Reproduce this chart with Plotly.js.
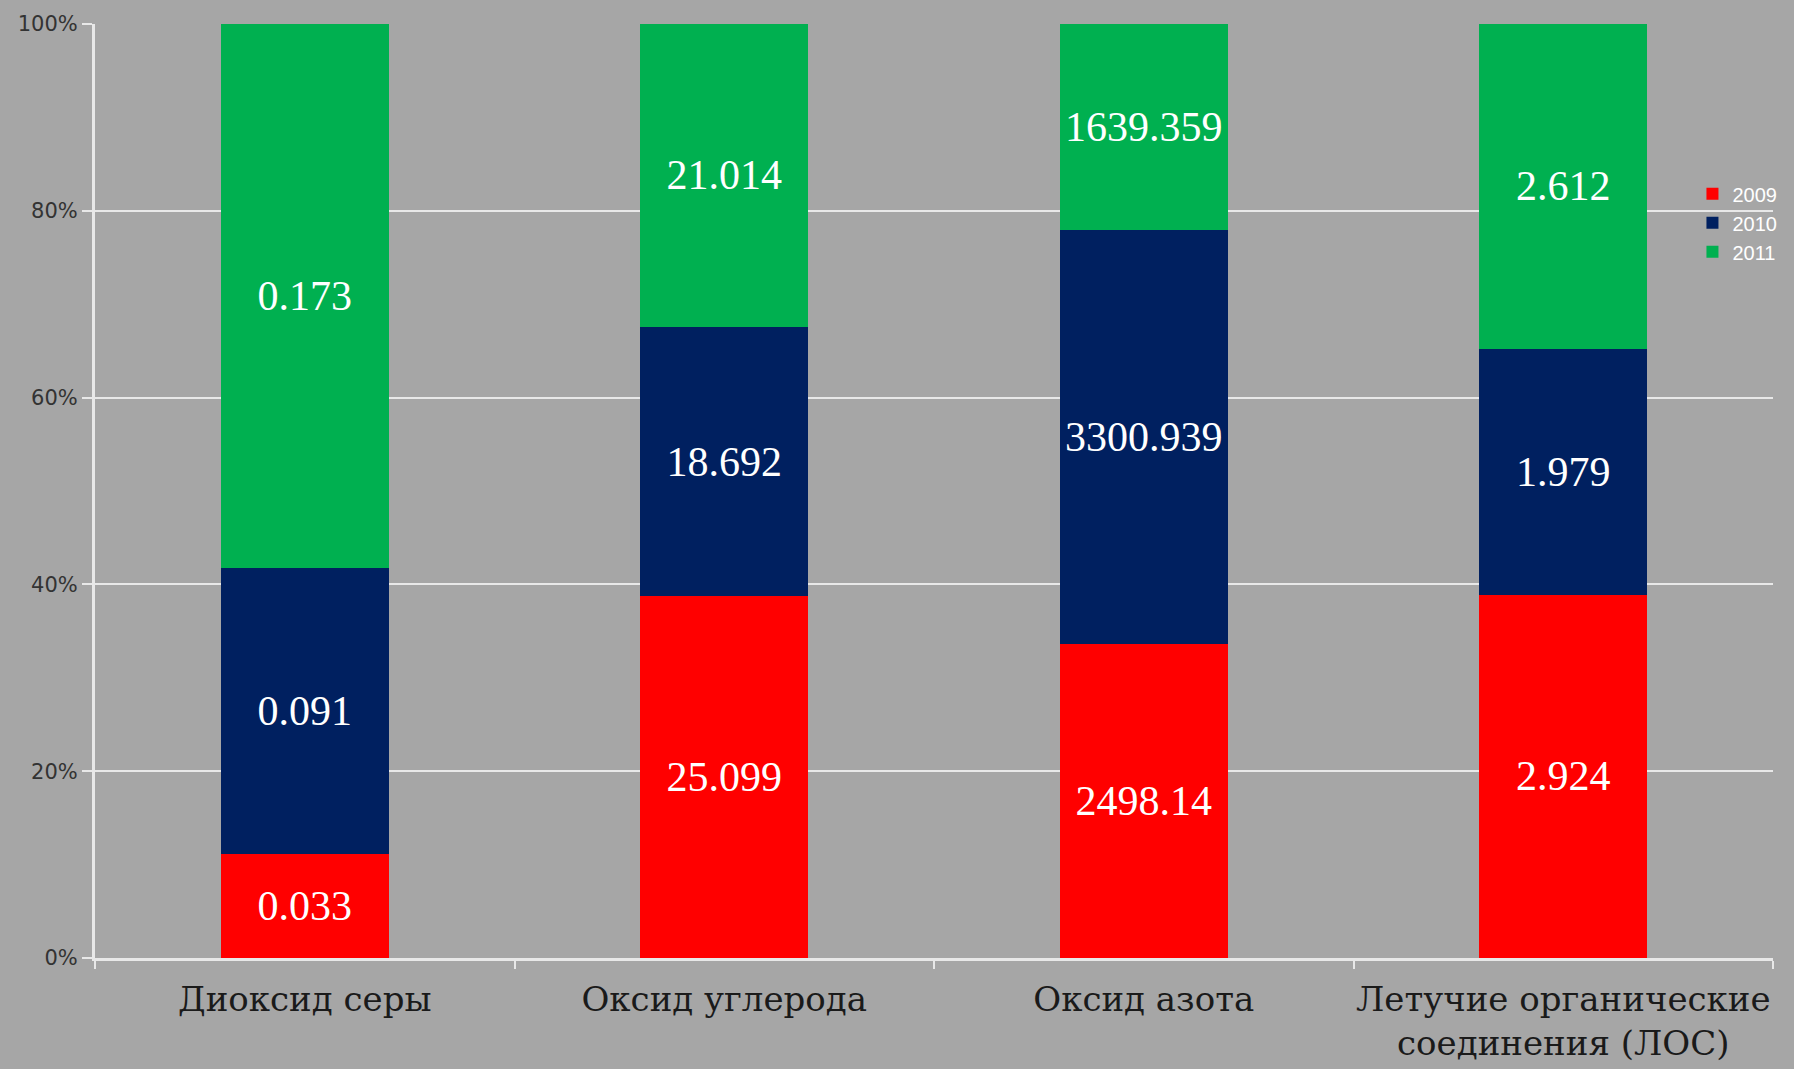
<!DOCTYPE html>
<html>
<head>
<meta charset="utf-8">
<script src="https://cdn.plot.ly/plotly-3.0.1.min.js"></script>
<style>
html,body{margin:0;padding:0;background:#a6a6a6;}
#chart{width:1794px;height:1069px;}
</style>
</head>
<body>
<div id="chart"></div>
<script>
var categories = ["Диоксид серы", "Оксид углерода", "Оксид азота", "Летучие органические<br>соединения (ЛОС)"];
var years = ["2009", "2010", "2011"];
var values2009 = [0.033, 25.099, 2498.14, 2.924];
var values2010 = [0.091, 18.692, 3300.939, 1.979];
var values2011 = [0.173, 21.014, 1639.359, 2.612];
var colors = ["#ff0000", "#002060", "#00b050"];
var yTickVals = [0, 20, 40, 60, 80, 100];
var yTickText = ["0%", "20%", "40%", "60%", "80%", "100%"];

var series = [values2009, values2010, values2011];
var traces = series.map(function (vals, i) {
  return {
    type: "bar",
    name: years[i],
    x: categories,
    y: vals,
    text: vals.map(String),
    texttemplate: "%{text}",
    textposition: "inside",
    insidetextanchor: "middle",
    constraintext: "none",
    textangle: 0,
    textfont: {family: "Liberation Serif, Times New Roman, serif", size: 42, color: "#ffffff"},
    marker: {color: colors[i], line: {width: 0}},
    hoverinfo: "skip"
  };
});

var layout = {
  width: 1794,
  height: 1069,
  paper_bgcolor: "#a6a6a6",
  plot_bgcolor: "#a6a6a6",
  barmode: "stack",
  barnorm: "percent",
  bargap: 0.6,
  margin: {l: 95, r: 21, t: 24, b: 111},
  showlegend: true,
  legend: {
    x: 0.952, xanchor: "left", y: 0.839, yanchor: "top",
    traceorder: "normal",
    bgcolor: "rgba(0,0,0,0)",
    borderwidth: 0,
    font: {family: "Liberation Sans, Arial, sans-serif", size: 20, color: "#ffffff"},
    itemwidth: 30,
    tracegroupgap: 0
  },
  xaxis: {
    type: "category",
    tickson: "boundaries",
    ticks: "outside",
    ticklen: 8,
    tickwidth: 2,
    tickcolor: "#e8e8e8",
    showline: true,
    linecolor: "#e8e8e8",
    linewidth: 3,
    showgrid: false,
    tickangle: 0,
    ticklabelstandoff: 9,
    tickfont: {family: "DejaVu Serif, serif", size: 34, color: "#1a1a1a"},
    automargin: false
  },
  yaxis: {
    range: [0, 100],
    tickvals: yTickVals,
    ticktext: yTickText,
    ticks: "outside",
    ticklen: 10,
    tickwidth: 2,
    tickcolor: "#e8e8e8",
    showline: true,
    linecolor: "#e8e8e8",
    linewidth: 3,
    showgrid: true,
    gridcolor: "#e8e8e8",
    gridwidth: 2,
    zeroline: false,
    tickfont: {family: "DejaVu Sans, sans-serif", size: 21, color: "#333333"},
    automargin: false
  }
};

Plotly.newPlot("chart", traces, layout, {displayModeBar: false, staticPlot: true});
</script>
</body>
</html>
